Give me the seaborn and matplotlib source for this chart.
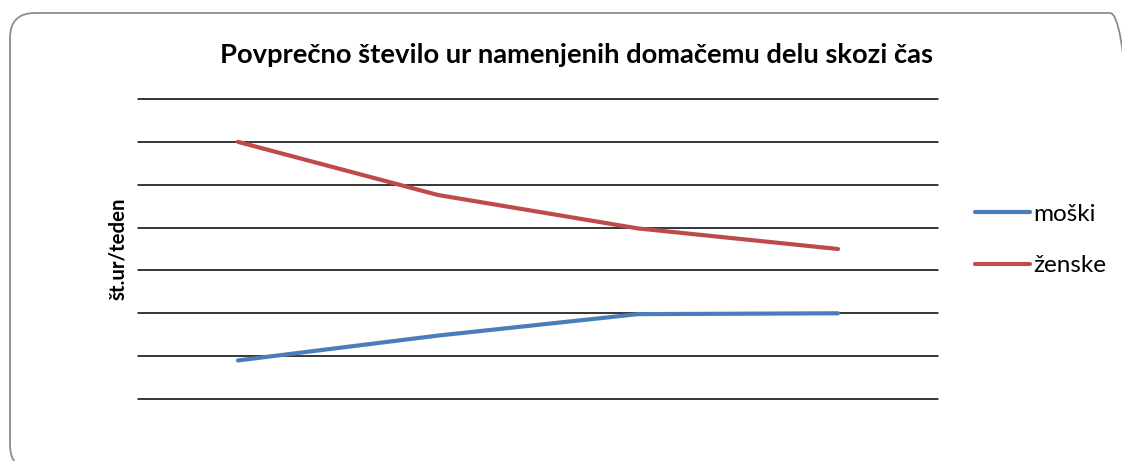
import pandas
import seaborn
import matplotlib.pyplot as plt
from matplotlib.patches import FancyBboxPatch
from matplotlib.transforms import IdentityTransform

seaborn.set_style(style='white')
plt.rcParams['font.family'] = ['Lato', 'DejaVu Sans']
plt.rcParams['text.color'] = 'black'
plt.rcParams['axes.labelcolor'] = 'black'

# values (hours per week)
periods = ['1', '2', '3', '4']
moski = [4.5, 7.4, 9.9, 10.0]
zenske = [30.0, 23.8, 19.9, 17.5]

df = pandas.DataFrame({
    'obdobje': periods * 2,
    'ure': moski + zenske,
    'spol': ['moški'] * len(periods) + ['ženske'] * len(periods),
})
df['x'] = df['obdobje'].astype(int) - 1

fig = plt.figure(figsize=(11.22, 4.61), dpi=100)
ax = fig.add_axes([138 / 1122, 1 - 399 / 461, 800 / 1122, 300 / 461])

g = seaborn.lineplot(data=df, x='x', y='ure', hue='spol',
                     palette=['#4A7EBB', '#BE4B48'], linewidth=3.0,
                     solid_capstyle='round', ax=ax)

ax.set_xlim(-0.5, 3.5)
ax.set_ylim(0, 35)
ax.set_yticks(range(0, 36, 5))
ax.set_xticks([])
ax.set_yticklabels([])
ax.grid(axis='y', color='black', linewidth=1.1)
for gl in ax.get_ygridlines():
    gl.set_clip_on(False)
ax.set_axisbelow(True)
for s in ax.spines.values():
    s.set_visible(False)
ax.tick_params(left=False, bottom=False)
ax.set_xlabel('')
ax.set_ylabel('št.ur/teden', fontsize=14.7, fontweight='bold', labelpad=0.5)

fig.text(577 / 1122, 1 - 55 / 461,
         'Povprečno število ur namenjenih domačemu delu skozi čas',
         ha='center', va='center', fontsize=19.7, fontweight='bold')

seaborn.move_legend(g, loc='center left', bbox_to_anchor=(1.034, 0.53),
                    borderaxespad=0, title=None, frameon=False, fontsize=17.5,
                    handlelength=2.26, handletextpad=0.12, labelspacing=1.25)

# rounded chart border, partly running off the image on the right and bottom
border = FancyBboxPatch((10, -9), 1125, 457,
                        boxstyle='round,pad=0,rounding_size=25',
                        transform=IdentityTransform(), facecolor='none',
                        edgecolor='#8c8c8c', linewidth=1.3)
fig.patches.append(border)

plt.savefig('out.png', dpi=100)
